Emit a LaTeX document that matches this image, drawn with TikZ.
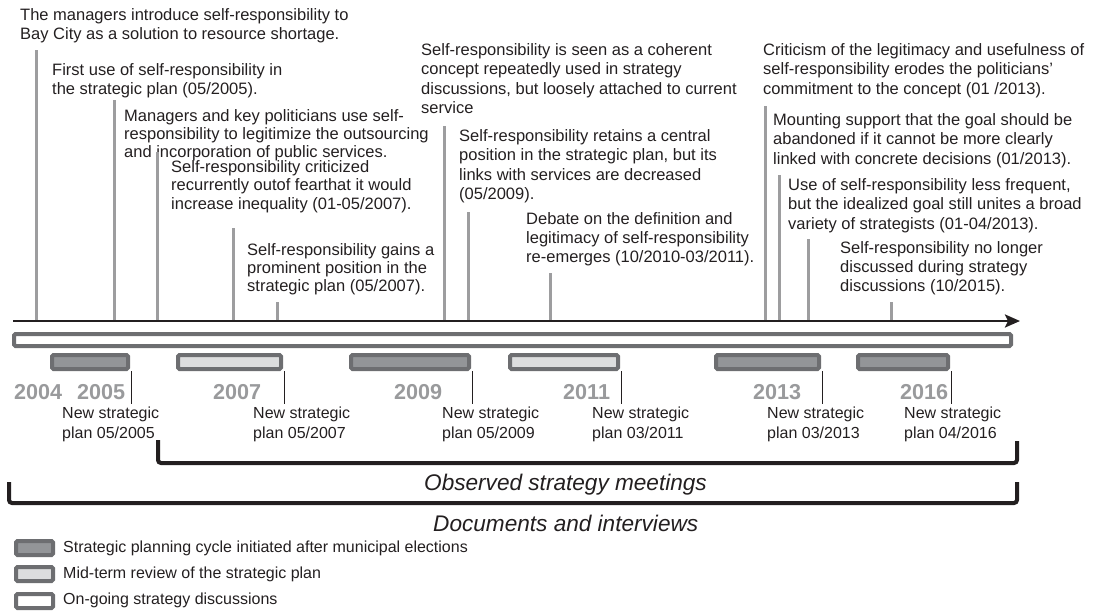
\documentclass[tikz,border=0pt]{standalone}
\usepackage{fontspec}
\setmainfont{Liberation Sans}
\usetikzlibrary{arrows.meta}
\definecolor{txt}{HTML}{231F20}
\definecolor{tickgray}{HTML}{9D9D9F}
\definecolor{barborder}{HTML}{6D6E71}
\definecolor{darkfill}{HTML}{939598}
\definecolor{lightfill}{HTML}{DCDDDE}
\definecolor{yeargray}{HTML}{999A9C}
\begin{document}
\begin{tikzpicture}[x=1pt,y=-1pt,
  evt/.style={anchor=north west,inner sep=0,align=left,text=txt,font=\fontsize{16.5}{19.3}\selectfont},
  evttight/.style={evt,font=\fontsize{16.5}{18.2}\selectfont},
  plan/.style={anchor=north west,inner sep=0,align=left,text=txt,font=\fontsize{16}{20}\selectfont},
  ticksty/.style={draw=tickgray,line width=3pt},
  axissty/.style={draw=txt,line width=2.5pt,-{Stealth[length=15pt,width=13pt,inset=3pt]}},
  barsty/.style={draw=barborder,line width=4pt,rounded corners=1.5pt,inner sep=0,minimum height=14pt},
  darkbar/.style={barsty,fill=darkfill},
  lightbar/.style={barsty,fill=lightfill},
  openbar/.style={barsty,fill=white},
  planline/.style={draw=txt,line width=1.4pt},
  yearsty/.style={anchor=base west,inner sep=0,text=yeargray,font=\bfseries\fontsize{21.6}{24}\selectfont},
  bracketsty/.style={draw=txt,line width=4pt,rounded corners=3pt},
  itlabel/.style={anchor=base west,inner sep=0,text=txt,font=\itshape\fontsize{22.6}{27}\selectfont},
  legtext/.style={anchor=base west,inner sep=0,text=txt,font=\fontsize{16}{19}\selectfont}
]
\useasboundingbox (0,0) rectangle (1101,611);

% events
\node[evt] (e1) at (20,8) {The managers introduce self-responsibility to\\Bay City as a solution to resource shortage.};
\node[evt] (e2) at (52,63) {First use of self-responsibility in\\the strategic plan (05/2005).};
\node[evttight] (e3) at (124,109) {Managers and key politicians use self-\\responsibility to legitimize the outsourcing\\and incorporation of public services.};
\node[evttight] (e4) at (171,160.5) {Self-responsibility criticized\\recurrently outof fearthat it would\\increase inequality (01-05/2007).};
\node[evttight] (e5) at (247,243) {Self-responsibility gains a\\prominent position in the\\strategic plan (05/2007).};
\node[evt] (e6) at (421,43.5) {Self-responsibility is seen as a coherent\\concept repeatedly used in strategy\\discussions, but loosely attached to current\\service};
\node[evt] (e7) at (459,129.5) {Self-responsibility retains a central\\position in the strategic plan, but its\\links with services are decreased\\(05/2009).};
\node[evt] (e8) at (526,212) {Debate on the definition and\\legitimacy of self-responsibility\\re-emerges (10/2010-03/2011).};
\node[evt] (e9) at (763,43.5) {Criticism of the legitimacy and usefulness of\\self-responsibility erodes the politicians’\\commitment to the concept (01 /2013).};
\node[evt] (e10) at (773,113.5) {Mounting support that the goal should be\\abandoned if it cannot be more clearly\\linked with concrete decisions (01/2013).};
\node[evt] (e11) at (788,178.5) {Use of self-responsibility less frequent,\\but the idealized goal still unites a broad\\variety of strategists (01-04/2013).};
\node[evt] (e12) at (840,241) {Self-responsibility no longer\\discussed during strategy\\discussions (10/2015).};

% axis
\coordinate (axL) at (13,321);
\coordinate (axR) at (1020,321);

% ticks
\coordinate (k1) at (36,50);
\coordinate (k2) at (114,100);
\coordinate (k3) at (157,152);
\coordinate (k4) at (233,228);
\coordinate (k5) at (277,302);
\coordinate (k6) at (444,126);
\coordinate (k7) at (468,212);
\coordinate (k8) at (550,273);
\coordinate (k9) at (765,106);
\coordinate (k10) at (779,175);
\coordinate (k11) at (808,239);
\coordinate (k12) at (891,302);
\foreach \k in {1,...,12}{\draw[ticksty] (k\k) -- (k\k |- axL);}

\draw[axissty] (axL) -- (axR);

% bars
\node[openbar,minimum width=997pt,minimum height=12pt] (og) at (512.5,340) {};
\node[darkbar,minimum width=76pt] (b1) at (90,362) {};
\node[lightbar,minimum width=103pt] (b2) at (229.5,362) {};
\node[darkbar,minimum width=118pt] (b3) at (410,362) {};
\node[lightbar,minimum width=108pt] (b4) at (564,362) {};
\node[darkbar,minimum width=103pt] (b5) at (767.5,362) {};
\node[darkbar,minimum width=90pt] (b6) at (903,362) {};

\foreach \b in {1,...,6}{\draw[planline] ([xshift=1.3pt]b\b.south east) -- ++(0,33);}

% years
\node[yearsty] (y04) at (14,399) {2004};
\node[yearsty] (y05) at (77,399) {2005};
\node[yearsty] (y07) at (213,399) {2007};
\node[yearsty] (y09) at (394,399) {2009};
\node[yearsty] (y11) at (563,399) {2011};
\node[yearsty] (y13) at (753,399) {2013};
\node[yearsty] (y16) at (900,399) {2016};

% plan labels
\node[plan] (p1) at (62,407) {New strategic\\plan 05/2005};
\node[plan] (p2) at (253,407) {New strategic\\plan 05/2007};
\node[plan] (p3) at (442,407) {New strategic\\plan 05/2009};
\node[plan] (p4) at (592,407) {New strategic\\plan 03/2011};
\node[plan] (p5) at (767,407) {New strategic\\plan 03/2013};
\node[plan] (p6) at (904,407) {New strategic\\plan 04/2016};

% brackets
\coordinate (o1) at (158,440);
\coordinate (o2) at (158,463);
\coordinate (o3) at (1017,463);
\coordinate (o4) at (1017,441);
\draw[bracketsty] (o1) -- (o2) -- (o3) -- (o4);
\coordinate (d1) at (9,482);
\coordinate (d2) at (9,503);
\coordinate (d3) at (1017,503);
\coordinate (d4) at (1017,482);
\draw[bracketsty] (d1) -- (d2) -- (d3) -- (d4);

\node[itlabel] (obs) at (424,490) {Observed strategy meetings};
\node[itlabel] (doc) at (433,531) {Documents and interviews};

% legend
\node[darkbar,minimum width=37pt] (l1) at (34.5,548) {};
\node[lightbar,minimum width=37pt] (l2) at (34.5,574) {};
\node[openbar,minimum width=37pt] (l3) at (34.5,601) {};
\node[legtext] (lt1) at (63,552) {Strategic planning cycle initiated after municipal elections};
\node[legtext] (lt2) at (63,578) {Mid-term review of the strategic plan};
\node[legtext] (lt3) at (63,604) {On-going strategy discussions};
\end{tikzpicture}
\end{document}
